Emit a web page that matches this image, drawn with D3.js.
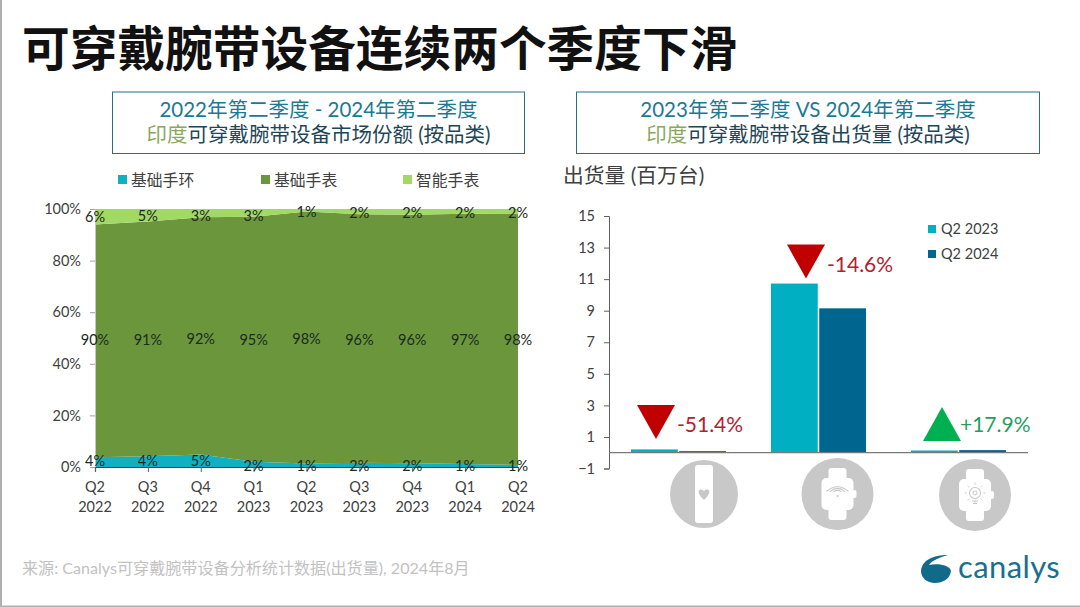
<!DOCTYPE html>
<html><head><meta charset="utf-8">
<script src="https://cdn.jsdelivr.net/npm/d3@7"></script>
<style>html,body{margin:0;padding:0;background:#fff}svg{display:block}
text{font-family:Lato,"Noto Sans CJK SC",sans-serif}</style></head>
<body><svg id="c" width="1080" height="608"></svg>
<script>
const quarters=["Q2","Q3","Q4","Q1","Q2","Q3","Q4","Q1","Q2"];
const years=["2022","2022","2022","2023","2023","2023","2023","2024","2024"];
const bandShare=[3.8,4.2,4.8,2.0,1.4,1.6,1.5,1.2,0.8];
const watchShare=[90.2,91,92,95,97.6,96.4,96.3,97,97.5];
const smartShare=[6,4.8,3.2,3,1,2,2.2,1.8,1.7];
const stackNames=["基础手环","基础手表","智能手表"];
const stackColors=["#0fb0c4","#6b963c","#a2d964"];
const categories=["基础手环","基础手表","智能手表"];
const q22023=[0.21,10.72,0.14];
const q22024=[0.10,9.15,0.165];
const changes=["-51.4%","-14.6%","+17.9%"];
const changeColors=["#b5202c","#b5202c","#1fa060"];
const triColors=["#c00000","#c00000","#00b050"];
const barTicks=[-1,1,3,5,7,9,11,13,15];
const shareTicks=[0,20,40,60,80,100];

const svg=d3.select("#c");
svg.append("rect").attr("x",1).attr("y",-2).attr("width",1082).attr("height",608.5).attr("fill","none").attr("stroke","#b0b0b0").attr("stroke-width",2);
svg.append("text").attr("x",22).attr("y",66).attr("font-size",47.7).attr("font-weight",700).attr("fill","#111").text("可穿戴腕带设备连续两个季度下滑");

function box(x,w,l1,l2a,l2b){
  svg.append("rect").attr("x",x).attr("y",92).attr("width",w).attr("height",61.5).attr("fill","#fff").attr("stroke","#2a6f8a").attr("stroke-width",1);
  svg.append("text").attr("x",x+w/2).attr("y",117).attr("text-anchor","middle").attr("font-size",20.5).attr("fill","#1a7a94").text(l1);
  const t=svg.append("text").attr("x",x+w/2).attr("y",142).attr("text-anchor","middle").attr("font-size",20.5);
  t.append("tspan").attr("fill","#8aa860").text(l2a);
  t.append("tspan").attr("fill","#1f4656").text(l2b);
}
box(112.5,412,"2022年第二季度 - 2024年第二季度","印度","可穿戴腕带设备市场份额 (按品类)");
box(576.5,463,"2023年第二季度 VS 2024年第二季度","印度","可穿戴腕带设备出货量 (按品类)");

const x=d3.scalePoint().domain(d3.range(quarters.length)).range([95,518]);
const y=d3.scaleLinear().domain([0,100]).range([467,209]);
const rows=quarters.map((q,i)=>({i,a:bandShare[i],b:watchShare[i],c:smartShare[i]}));
const stack=d3.stack().keys(["a","b","c"])(rows);
const area=d3.area().x(d=>x(d.data.i)).y0(d=>y(d[0])).y1(d=>y(d[1]));
svg.append("g").selectAll("path").data(stack).join("path").attr("d",area).attr("fill",(d,i)=>stackColors[i]);

const ya=svg.append("g").attr("transform","translate(95,0)").call(d3.axisLeft(y).tickValues(shareTicks).tickFormat(d=>d+"%").tickSize(5).tickPadding(9));
ya.select(".domain").attr("stroke","#c8c8c8");
ya.selectAll(".tick line").attr("stroke","#a0a0a0");
ya.selectAll("text").attr("font-size",14.5).attr("fill","#404040").style("font-family",'Lato,"Noto Sans CJK SC",sans-serif');

const xa=svg.append("g").attr("transform","translate(0,467)").call(d3.axisBottom(x).tickFormat("").tickSize(5));
xa.select(".domain").attr("stroke","#234a50").attr("stroke-width",1.2);
xa.selectAll(".tick line").attr("stroke","#606060");
const xl=svg.append("g").selectAll("g").data(quarters).join("g");
xl.append("text").attr("x",(d,i)=>x(i)).attr("y",492).attr("text-anchor","middle").attr("font-size",14.5).attr("fill","#404040").text(d=>d);
xl.append("text").attr("x",(d,i)=>x(i)).attr("y",512).attr("text-anchor","middle").attr("font-size",14.5).attr("fill","#404040").text((d,i)=>years[i]);

const lblCol="#1c2a20";
const lab=(arr,yf)=>svg.append("g").selectAll("text").data(arr).join("text")
  .attr("x",(d,i)=>x(i)).attr("y",yf).attr("text-anchor","middle").attr("font-size",14.5).attr("fill",lblCol).text(d=>Math.round(d)+"%");
lab(bandShare,(d,i)=>y(0)+ (i<3? -1: 4));
lab(watchShare,(d,i)=>345-(i===2?1:0)-(i===4?1:0));
lab(smartShare,(d,i)=>y(100)+ (i<1?13:i<4?12:i===4?8:9));

const lx=[118,261,403];
stackNames.forEach((n,i)=>{
  svg.append("rect").attr("x",lx[i]).attr("y",175).attr("width",9).attr("height",9).attr("fill",stackColors[i]);
  svg.append("text").attr("x",lx[i]+13).attr("y",186).attr("font-size",15.8).attr("fill","#404040").text(n);
});

svg.append("text").attr("x",563).attr("y",183).attr("font-size",20.8).attr("fill","#404040").text("出货量 (百万台)");
const yb=d3.scaleLinear().domain([-1,15]).range([468.5,216]);
const x0=d3.scaleBand().domain(categories).range([609,1029]);
const x1=d3.scaleBand().domain([0,1]).range([0,95]).paddingInner(0.03);
const barGroupInset=22;
const bandOff=c=>x0(c)+barGroupInset;
const cx=(c)=>bandOff(c)+48;
const barColors=["#00b0c2","#00658f"];
[q22023,q22024].forEach((s,k)=>{
  svg.append("g").selectAll("rect").data(s).join("rect")
    .attr("x",(d,i)=>bandOff(categories[i])+x1(k)).attr("width",x1.bandwidth())
    .attr("y",d=>yb(d)).attr("height",d=>yb(0)-yb(d)).attr("fill",barColors[k]);
});
const ybAxis=svg.append("g").attr("transform","translate(609,0)").call(d3.axisLeft(yb).tickValues(barTicks).tickSize(5).tickPadding(9));
ybAxis.select(".domain").attr("stroke","#606060");
ybAxis.selectAll(".tick line").attr("stroke","#606060");
ybAxis.selectAll("text").attr("font-size",14.5).attr("fill","#404040").style("font-family",'Lato,"Noto Sans CJK SC",sans-serif');
svg.append("line").attr("x1",609).attr("x2",1028).attr("y1",yb(0)).attr("y2",yb(0)).attr("stroke","#7a7a7a").attr("stroke-width",1.2);

const triY=[405,yb(10.72)-39,407];
const triShift=[-23,-13,-17];
categories.forEach((c,i)=>{
  const mx=cx(c)+triShift[i], top=triY[i], h=34, w=38;
  const pts=i===2?[[mx-w/2,top+h],[mx+w/2,top+h],[mx,top]]:[[mx-w/2,top],[mx+w/2,top],[mx,top+h]];
  svg.append("path").attr("d",d3.line()(pts)+"Z").attr("fill",triColors[i]);
  svg.append("text").attr("x",i===2?mx+18:mx+21).attr("y",i===2?top+25:top+27).attr("font-size",21).attr("fill",changeColors[i]).text(changes[i]);
});

[["Q2 2023",229],["Q2 2024",254]].forEach(([t,yy],k)=>{
  svg.append("rect").attr("x",928).attr("y",yy-4).attr("width",8).attr("height",8).attr("fill",barColors[k]);
  svg.append("text").attr("x",941).attr("y",yy+5).attr("font-size",14.5).attr("fill","#404040").text(t);
});

const gc="#c8c8c8";
function icon(cxx,cyy,r,kind){
  const g=svg.append("g").attr("transform",`translate(${cxx},${cyy})`);
  g.append("circle").attr("r",r).attr("fill",gc);
  if(kind==="band"){
    g.append("rect").attr("x",-9).attr("y",-29).attr("width",18).attr("height",58).attr("rx",3).attr("fill","#fff");
    g.append("path").attr("d","M0,6 C-9,-2 -5,-7 0,-3 C5,-7 9,-2 0,6Z").attr("fill",gc);
  } else {
    g.append("rect").attr("x",-9).attr("y",-26).attr("width",18).attr("height",52).attr("rx",3).attr("fill","#fff");
    g.append("rect").attr("x",-16).attr("y",-16).attr("width",32).attr("height",32).attr("rx",5).attr("fill","#fff");
    g.append("rect").attr("x",15).attr("y",-4).attr("width",4).attr("height",8).attr("rx",2).attr("fill","#fff");
    if(kind==="wifi"){
      [11,7.5,4].forEach(rr=>g.append("path").attr("d",`M${-rr},${-2-rr*.05} Q0,${-2-rr*.9} ${rr},${-2-rr*.05}`).attr("fill","none").attr("stroke",gc).attr("stroke-width",1.1));
      g.append("circle").attr("cy",2).attr("r",1).attr("fill",gc);
    } else {
      g.append("circle").attr("cy",-2).attr("r",5.5).attr("fill","none").attr("stroke",gc).attr("stroke-width",1.1);
      g.append("circle").attr("cy",-2).attr("r",2).attr("fill","none").attr("stroke",gc).attr("stroke-width",1);
      g.append("path").attr("d","M-3,6H3M-2,8.5H2").attr("stroke",gc).attr("stroke-width",1);
      d3.range(8).forEach(k=>{const a=k*Math.PI/4;g.append("line").attr("x1",8*Math.cos(a)).attr("y1",-2+8*Math.sin(a)).attr("x2",10.5*Math.cos(a)).attr("y2",-2+10.5*Math.sin(a)).attr("stroke",gc).attr("stroke-width",.8);});
    }
  }
}
icon(704,494,34,"band");icon(837.5,494,36,"wifi");icon(975,495,36,"smart");

svg.append("text").attr("x",22).attr("y",574).attr("font-size",16.1).attr("fill","#c2c2c2").text("来源: Canalys可穿戴腕带设备分析统计数据(出货量), 2024年8月");
const logo=svg.append("g").attr("transform","translate(936,569)");
logo.append("path").attr("d","M-15,2 C-14,-9 -3,-14 12,-14 C5,-12 -4,-9 -7,-4 C2,-6 14,-4 15,2 C14,11 5,14 -1,14 C-9,14 -15,9 -15,2Z").attr("fill","#116a8a");
svg.append("text").attr("x",958).attr("y",578).attr("font-size",31).attr("fill","#17708e").attr("letter-spacing",.4).text("canalys");
</script></body></html>
